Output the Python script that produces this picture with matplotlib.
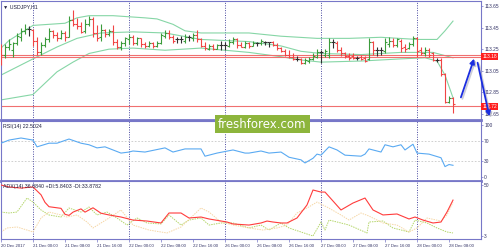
import numpy as np
import matplotlib
matplotlib.use("Agg")
import matplotlib.pyplot as plt
from matplotlib.patches import Rectangle, FancyArrowPatch
from matplotlib.transforms import blended_transform_factory

plt.rcParams['font.family'] = ['Liberation Sans', 'DejaVu Sans']

# USDJPY H1 bars, 20 Dec 16:00 .. 28 Dec 09:00
o = [113.28, 113.20, 113.27, 113.24, 113.31, 113.36, 113.42, 113.44, 113.43, 113.33,
     113.22, 113.29, 113.34, 113.42, 113.38, 113.35, 113.40, 113.36, 113.52, 113.48,
     113.46, 113.42, 113.48, 113.53, 113.40, 113.36, 113.43, 113.39, 113.42, 113.32,
     113.27, 113.31, 113.34, 113.36, 113.31, 113.35, 113.30, 113.28, 113.31, 113.28,
     113.31, 113.37, 113.40, 113.36, 113.34, 113.34, 113.33, 113.36, 113.35, 113.38,
     113.34, 113.28, 113.25, 113.28, 113.25, 113.29, 113.29, 113.28, 113.32, 113.34,
     113.29, 113.27, 113.31, 113.28, 113.31, 113.31, 113.32, 113.32, 113.32, 113.29,
     113.26, 113.23, 113.20, 113.18, 113.16, 113.16, 113.12, 113.14, 113.16, 113.18,
     113.22, 113.20, 113.20, 113.32, 113.31, 113.24, 113.21, 113.19, 113.19, 113.17,
     113.18, 113.17, 113.16, 113.32, 113.24, 113.24, 113.23, 113.30, 113.33, 113.29,
     113.33, 113.27, 113.26, 113.30, 113.35, 113.24, 113.21, 113.24, 113.21, 113.15,
     113.15, 113.02, 112.76, 112.80]
h = [113.30, 113.30, 113.34, 113.32, 113.40, 113.45, 113.48, 113.46, 113.44, 113.36,
     113.32, 113.36, 113.45, 113.43, 113.41, 113.43, 113.42, 113.56, 113.61, 113.54,
     113.50, 113.53, 113.56, 113.55, 113.47, 113.48, 113.44, 113.44, 113.47, 113.34,
     113.33, 113.36, 113.39, 113.38, 113.36, 113.35, 113.32, 113.33, 113.32, 113.33,
     113.40, 113.43, 113.43, 113.38, 113.36, 113.37, 113.39, 113.38, 113.40, 113.43,
     113.35, 113.32, 113.30, 113.30, 113.30, 113.33, 113.32, 113.34, 113.36, 113.35,
     113.32, 113.33, 113.32, 113.33, 113.32, 113.34, 113.33, 113.32, 113.33, 113.31,
     113.27, 113.25, 113.24, 113.21, 113.19, 113.17, 113.17, 113.18, 113.21, 113.25,
     113.24, 113.25, 113.35, 113.34, 113.33, 113.27, 113.22, 113.21, 113.21, 113.19,
     113.20, 113.19, 113.35, 113.33, 113.27, 113.27, 113.35, 113.36, 113.35, 113.35,
     113.34, 113.30, 113.32, 113.37, 113.36, 113.27, 113.27, 113.26, 113.22, 113.17,
     113.17, 113.03, 112.82, 112.81]
l = [113.10, 113.17, 113.24, 113.18, 113.29, 113.33, 113.39, 113.37, 113.28, 113.20,
     113.20, 113.27, 113.32, 113.35, 113.33, 113.34, 113.33, 113.36, 113.46, 113.44,
     113.40, 113.40, 113.46, 113.36, 113.33, 113.33, 113.36, 113.37, 113.29, 113.25,
     113.24, 113.28, 113.30, 113.29, 113.29, 113.27, 113.26, 113.27, 113.26, 113.27,
     113.30, 113.35, 113.34, 113.31, 113.31, 113.31, 113.31, 113.33, 113.33, 113.32,
     113.27, 113.24, 113.24, 113.24, 113.25, 113.24, 113.24, 113.27, 113.30, 113.26,
     113.27, 113.26, 113.26, 113.28, 113.28, 113.29, 113.29, 113.27, 113.28, 113.24,
     113.22, 113.19, 113.17, 113.15, 113.14, 113.11, 113.11, 113.12, 113.15, 113.17,
     113.12, 113.18, 113.17, 113.26, 113.22, 113.19, 113.17, 113.15, 113.16, 113.15,
     113.15, 113.13, 113.15, 113.20, 113.19, 113.20, 113.21, 113.27, 113.27, 113.27,
     113.22, 113.22, 113.25, 113.28, 113.18, 113.20, 113.19, 113.18, 113.14, 113.13,
     113.00, 112.75, 112.75, 112.66]
c = [113.20, 113.27, 113.30, 113.31, 113.37, 113.42, 113.44, 113.44, 113.33, 113.22,
     113.29, 113.34, 113.42, 113.38, 113.35, 113.40, 113.36, 113.52, 113.48, 113.46,
     113.41, 113.48, 113.53, 113.40, 113.35, 113.43, 113.39, 113.42, 113.32, 113.27,
     113.31, 113.35, 113.36, 113.31, 113.35, 113.30, 113.28, 113.31, 113.28, 113.31,
     113.38, 113.40, 113.36, 113.33, 113.34, 113.34, 113.36, 113.36, 113.38, 113.34,
     113.28, 113.26, 113.28, 113.25, 113.29, 113.29, 113.29, 113.32, 113.34, 113.29,
     113.27, 113.31, 113.28, 113.31, 113.31, 113.33, 113.32, 113.32, 113.29, 113.26,
     113.23, 113.20, 113.18, 113.16, 113.16, 113.12, 113.15, 113.16, 113.19, 113.22,
     113.22, 113.23, 113.32, 113.32, 113.24, 113.21, 113.19, 113.17, 113.17, 113.17,
     113.16, 113.14, 113.32, 113.24, 113.24, 113.24, 113.32, 113.33, 113.29, 113.34,
     113.26, 113.25, 113.30, 113.35, 113.23, 113.21, 113.24, 113.20, 113.15, 113.15,
     113.02, 112.76, 112.80, 112.74]

# bollinger bands (read at some bars)
bb_up_x = [0, 2, 5, 8, 12, 16, 19, 22, 28, 32, 36, 39, 43, 46, 50, 62, 70, 79, 87, 95, 104, 109, 111, 113]
bb_up = [113.26, 113.33, 113.40, 113.47, 113.48, 113.49, 113.54, 113.56, 113.56, 113.55, 113.54, 113.53,
         113.48, 113.42, 113.40, 113.40, 113.37, 113.35, 113.35, 113.36, 113.34, 113.34, 113.42, 113.51]
bb_mid_x = [0, 8, 14, 19, 25, 33, 41, 50, 62, 70, 75, 80, 90, 100, 108, 113]
bb_mid = [113.01, 113.16, 113.27, 113.35, 113.40, 113.41, 113.40, 113.34, 113.32, 113.28,
          113.23, 113.21, 113.20, 113.22, 113.22, 113.17]
bb_lo_x = [0, 8, 14, 18, 22, 27, 33, 41, 50, 62, 70, 75, 80, 90, 100, 106, 109, 111, 113]
bb_lo = [112.78, 112.83, 113.04, 113.13, 113.21, 113.25, 113.26, 113.24, 113.26, 113.22, 113.18,
         113.15, 113.13, 113.14, 113.16, 113.17, 113.14, 113.01, 112.80]

rsi_x = [0, 2, 5, 8, 9, 12, 14, 17, 20, 22, 24, 26, 30, 32, 33, 36, 41, 43, 46, 50, 51, 54, 58, 61,
         62, 65, 67, 70, 72, 75, 76, 78, 79, 80, 82, 84, 86, 90, 91, 92, 95, 96, 98, 100, 101, 103,
         104, 107, 110, 111, 112, 113]
rsi = [65, 71, 75, 71, 58, 65, 65, 73, 65, 62, 56, 58, 46, 48, 50, 48, 56, 48, 54, 54, 40, 46, 52, 46,
       46, 50, 46, 48, 38, 33, 27, 36, 44, 42, 58, 52, 42, 40, 44, 54, 48, 62, 58, 62, 52, 63,
       46, 44, 37, 20, 24, 22.5]

adx_x = [0, 2, 5, 8, 10, 11, 12, 15, 16, 17, 18, 20, 21, 23, 25, 27, 30, 33, 36.5, 40, 42, 45, 47, 50,
         52, 56.5, 58, 62, 65, 66.5, 68, 70, 71.5, 74, 76.5, 78, 80, 81, 85, 88, 91, 93, 95.5, 99,
         102, 103.5, 105.5, 108, 110, 111.5, 113]
adx = [50, 48.2, 47.2, 48.2, 41, 34, 30, 28.5, 23, 22, 25, 28, 25, 29, 24, 22.4, 20.5, 17.7, 16.8, 15,
       24.2, 24.2, 19.6, 20.5, 18.7, 15.9, 14.1, 13.1, 15, 16.8, 15.9, 15, 15, 19.6, 31.6, 45.4,
       43.5, 43.5, 27, 33.4, 38, 27, 22.4, 23.3, 18.7, 20.5, 17.7, 15, 15.9, 25.1, 36.1]
pdi_x = [0, 2, 4, 6.5, 8, 10, 12, 15, 17, 20, 22, 24, 26.5, 29, 31.5, 34, 36.5, 40, 42, 45, 47, 50,
         52, 55, 58, 62, 65, 67, 70, 72, 75, 78, 80, 81, 82, 85, 87, 91.5, 92, 95.5, 98, 102, 103.5,
         106.5, 109, 111.5, 113]
pdi = [25.1, 24.2, 25.1, 38, 34.3, 27, 22.4, 20.5, 28.8, 25.1, 29.7, 22.4, 25.1, 19.6, 13.1, 19.6,
       15, 14.1, 22.4, 13.1, 17.7, 19.6, 13.1, 15, 15, 10.4, 13.1, 8.5, 15, 10.4, 6.7, 3, 15.9, 8.5,
       17.7, 15, 13.1, 5.8, 15.9, 16.8, 10.4, 6.7, 17.7, 15, 10.4, 6.7, 5.8]
mdi_x = [0, 1.5, 4, 6.5, 8, 10, 12, 15, 16.5, 19, 21.5, 23, 25, 27, 30, 33, 37, 41.5, 45, 50, 52,
         55, 58, 62, 65.5, 69, 71.5, 74, 76.5, 79, 81.5, 85, 87, 90, 92, 95.5, 99, 102, 104, 106.5,
         110, 111.5, 113]
mdi = [6.7, 10.4, 11.3, 8.5, 6.7, 19.6, 25.1, 22.4, 20.5, 22.4, 15.9, 10.4, 15, 19.6, 27, 13.1,
       8.5, 5.8, 11.3, 28.8, 25.1, 15.9, 13.1, 10.4, 8.5, 10.4, 13.1, 24.2, 28.8, 34.3, 29.7, 22.4,
       17.7, 24.2, 21.4, 15, 13.1, 6.7, 10.4, 19.6, 16.8, 22.4, 33.9]

date_ticks = [0, 8, 16, 24, 32, 40, 48, 56, 64, 72, 80, 88, 96, 104, 112]
date_labels = ["20 Dec 2017", "21 Dec 00:00", "21 Dec 08:00", "21 Dec 16:00", "22 Dec 00:00",
               "22 Dec 08:00", "22 Dec 16:00", "26 Dec 00:00", "26 Dec 08:00", "26 Dec 16:00",
               "27 Dec 00:00", "27 Dec 08:00", "27 Dec 16:00", "28 Dec 00:00", "28 Dec 08:00"]
day_lines = [8, 32, 56, 80, 104]

W, H = 500, 250
frame = '#7777c8'
txt = '#333366'

fig = plt.figure(figsize=(5, 2.5), dpi=100)
fig.patch.set_facecolor('white')


def px_axes(x0, y0, x1, y1):
    return fig.add_axes([x0 / W, 1 - y1 / H, (x1 - x0) / W, (y1 - y0) / H])


ax1 = px_axes(1, 1, 481, 120)
ax2 = px_axes(1, 121, 481, 181)
ax3 = px_axes(1, 181, 481, 239)

for ax in (ax1, ax2, ax3):
    ax.set_xlim(0, 120)
    for s in ax.spines.values():
        s.set_color(frame)
        s.set_linewidth(0.8)
    ax.yaxis.tick_right()
    ax.tick_params(axis='y', labelsize=3.5, colors=txt, length=1.5, width=0.5, pad=0.8)
    ax.tick_params(axis='y', color=frame)
    for d in day_lines:
        ax.axvline(d, color='#4848a0', ls=(0, (1, 1.5)), lw=0.7, zorder=1)
    ax.set_xticks([])
ax1.spines['bottom'].set_linewidth(2)
ax2.spines['bottom'].set_linewidth(2)

# main panel
ax1.set_ylim(112.594, 113.696)
ax1.set_yticks([113.65, 113.45, 113.25, 113.05, 112.85, 112.65])
ax1.set_yticklabels(['113.65', '113.45', '113.25', '113.05', '112.85', '112.65'])
bbc = '#86d6a6'
ax1.plot(bb_up_x, bb_up, color=bbc, lw=0.8, zorder=2)
ax1.plot(bb_mid_x, bb_mid, color=bbc, lw=0.8, zorder=2)
ax1.plot(bb_lo_x, bb_lo, color=bbc, lw=0.8, zorder=2)
for lev in (113.20, 113.18, 112.72):
    ax1.axhline(lev, color='#f07070', lw=0.8, zorder=2)

o_, h_, l_, c_ = map(np.array, (o, h, l, c))
xs = np.arange(len(o_))
cols = np.where(c_ > o_ + 0.005, '#3c9c3c', np.where(c_ < o_ - 0.005, '#f04545', '#303030'))
ax1.vlines(xs, l_, h_, colors=cols, lw=0.8, zorder=3)
ax1.hlines(o_, xs - 0.4, xs, colors=cols, lw=0.8, zorder=3)
ax1.hlines(c_, xs, xs + 0.4, colors=cols, lw=0.8, zorder=3)

tr = blended_transform_factory(ax1.transAxes, ax1.transData)
for lev, lab in ((113.18, '113.18'), (112.72, '112.72')):
    ax1.text(1.003, lev, lab, transform=tr, ha='left', va='center', fontsize=3.5, color='white',
             bbox=dict(boxstyle='square,pad=0.25', fc='#ff1e1e', ec='none'), clip_on=False, zorder=6)
ax1.text(0.005, 0.975, '\u25bc USDJPY,H1', transform=ax1.transAxes, fontsize=3.8, color='#202040',
         ha='left', va='top')

# RSI panel
ax2.set_ylim(-7.7, 107.7)
ax2.set_yticks([100, 70, 30, 0])
ax2.set_yticklabels(['100', '70', '30', '0'])
for lev in (70, 30):
    ax2.axhline(lev, color='#c8c8c8', ls=(0, (2, 2)), lw=0.6, zorder=1)
ax2.plot(rsi_x, rsi, color='#5aaaf2', lw=0.8, zorder=3)
ax2.text(0.005, 0.95, 'RSI(14) 22.5024', transform=ax2.transAxes, fontsize=3.8, color='#202040',
         ha='left', va='top')

# ADX panel
ax3.set_ylim(0.24, 53.7)
ax3.set_yticks([50, 3])
ax3.set_yticklabels(['50', '3'])
ax3.plot(pdi_x, pdi, color='#b4d66a', lw=0.7, ls=(0, (1.5, 1)), zorder=2)
ax3.plot(mdi_x, mdi, color='#f6d7a6', lw=0.7, ls=(0, (1.5, 1)), zorder=2)
ax3.plot(adx_x, adx, color='#ff3c3c', lw=0.8, zorder=3)
ax3.text(0.005, 0.95, 'ADX(14) 36.0840 +DI:5.8403 -DI:33.8782', transform=ax3.transAxes,
         fontsize=3.8, color='#202040', ha='left', va='top')
ax3.set_xticks(date_ticks)
ax3.set_xticklabels(date_labels, ha='left')
ax3.tick_params(axis='x', labelsize=3.1, colors=txt, length=2, width=0.5, pad=1.5)
ax3.tick_params(axis='x', color=frame)

# watermark
fig.add_artist(Rectangle((215 / W, 1 - 133 / H), 95 / W, 18 / H, transform=fig.transFigure,
                         fc='#8db53c', ec='none', zorder=10))
fig.text(262.5 / W, 1 - 124 / H, 'freshforex.com', ha='center', va='center', color='white',
         fontsize=8.5, family='DejaVu Sans', zorder=11)


def fpt(x, y):
    return (x / W, 1 - y / H)


# arrows
for (a, b) in (((460, 100), (475, 56)), ((477, 60), (490, 119))):
    sh = FancyArrowPatch(fpt(a[0] + 1.5, a[1] + 1.5), fpt(b[0] + 1.5, b[1] + 1.5),
                         transform=fig.transFigure, arrowstyle='-|>', mutation_scale=7,
                         lw=1.3, color='#b8b8c8', alpha=0.7, zorder=11)
    fig.add_artist(sh)
    ar = FancyArrowPatch(fpt(*a), fpt(*b), transform=fig.transFigure, arrowstyle='-|>',
                         mutation_scale=7, lw=1.3, color='#1a2de0', zorder=12)
    fig.add_artist(ar)

fig.savefig('out.png', dpi=100)
